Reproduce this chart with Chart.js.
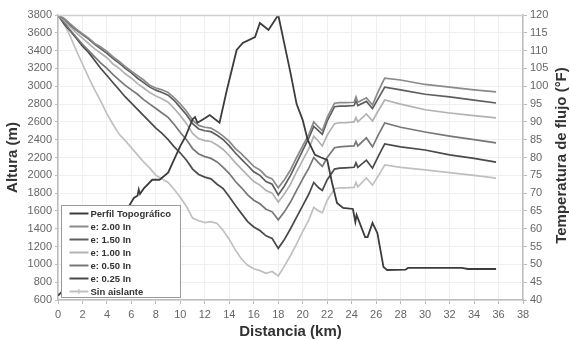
<!DOCTYPE html>
<html><head><meta charset="utf-8">
<script src="https://cdn.jsdelivr.net/npm/chart.js@4.4.1/dist/chart.umd.min.js"></script>
<style>html,body{margin:0;padding:0;background:#fff;}</style>
</head><body>
<canvas id="c" width="570" height="339"></canvas>
<script>
// ---- data ----
const seriesLabels = ["Perfil Topográfico","e: 2.00 In","e: 1.50 In","e: 1.00 In","e: 0.50 In","e: 0.25 In","Sin aislante"];
const distTopo = [0,1,2,3,4,5,6,6.2,6.5,6.6,6.7,7,7.7,8.3,9,9.4,10,10.4,11,11.2,11.4,12,12.4,13.2,13.8,14.6,15.1,16.1,16.5,16.7,17.2,18,19,19.5,20,20.4,21,21.5,22,22.4,22.8,23.3,24.1,24.3,24.4,25.1,25.3,25.7,26.1,26.6,26.9,28.4,28.6,33,33.5,35.8];
const altTopo = [650,780,930,1100,1280,1470,1700,1745,1770,1840,1790,1850,1950,1950,2030,2150,2330,2430,2630,2655,2590,2640,2677,2590,2958,3407,3486,3553,3710,3688,3632,3800,3150,2800,2620,2400,2230,2200,2172,1914,1690,1633,1622,1476,1555,1307,1307,1465,1352,970,937,940,960,960,948,948];
const distTemp = [0,0.5,1,1.5,2,2.5,3,3.5,4,4.5,5,5.5,6,6.5,7,7.5,8,8.5,9,9.5,10,10.5,11,11.5,12,12.5,13,13.5,14,14.5,15,15.5,16,16.5,17,17.5,18,18.5,19,19.5,20,20.5,20.9,21.3,21.6,22,22.6,23,23.5,24.2,24.35,24.5,25.2,25.7,26.2,26.7,28,30,32,34,35.8];
const temp200 = [120,119,117.5,116,114.75,113.5,112,111,109.75,108.25,107,105.5,104.25,103,101.75,100.25,99.5,99,98.25,96.75,95,93,90.5,89,88.5,88.25,87.25,86,84.5,82.5,81,79.25,77.5,76.5,74.75,74,71.5,73.75,76.5,80,83.25,86.5,90,88.5,87.5,91.25,95.25,95.4,95.4,95.5,97,95.5,96.75,94.75,98.75,102.3,101.75,100.5,99.75,99,98.4];
const temp150 = [120,118.9,117.25,115.75,114.5,113.25,111.75,110.5,109.25,107.75,106.5,105,103.75,102.25,101,99.75,98.9,98.25,97.5,96,94,92,89.5,88,87.5,87.25,86.25,85,83.25,81.25,79.5,77.75,76,75,73.25,72.5,69.5,72,75,78.5,82,85.5,88.75,87.5,86.5,90.25,94.25,94.4,94.4,94.6,96,94.6,95.75,93.75,96.75,99.75,99,97.75,97,96.1,95.3];
const temp100 = [120,118.5,116.75,115,113.5,112,110.5,109.25,108,106.25,105,103.5,102.25,100.75,99.5,98.25,97.25,96.5,95.5,93.75,91.75,89.5,86.75,85.25,84.75,84.5,83.5,82.25,80.5,78.5,76.75,75,73.25,72.25,70.75,70,67.5,69.75,72.5,76,79.25,82.5,86,84.5,83.25,86.25,89.5,89.75,89.75,90,91.25,90,92.25,90.25,93.25,96.15,95,93.4,92.5,91.75,91.1];
const temp050 = [120,118,115.75,113.75,111.75,110,108.25,106.5,105,103.25,101.75,100.25,99,97.75,96.25,95,93.75,92.5,91.25,89.25,87,85,82.5,81,80.25,79.75,78.75,77.25,75.5,73.25,71.5,69.5,68,67,65.5,64.75,62.5,64.75,67.5,70.75,74,77,80,78.5,77.5,80,82.75,83,83.1,83.25,84.5,83.25,85.5,83,86.5,89.7,88.5,87.15,86,85,84.1];
const temp025 = [120,117.5,115.5,113.5,111.25,109.5,107.25,105,103,101,99,97,95.25,93.5,91.75,90,88.25,86.75,85,83,81.25,79.25,76.75,75.25,74.5,74,72.5,71.25,69,66.5,64.25,62,60.5,59.5,58,57.25,54.5,57,60,63.25,66.5,69.75,73,71.5,70.75,73.75,76.75,77,77.1,77.25,78.5,77.25,79.25,77,80.5,83.8,83,82.1,80.75,79.75,78.7];
const tempSin = [120,117.5,114,110,106.25,102.5,99,95.75,92.25,89.25,86.5,84.75,82.75,80.75,78.75,77,75,74,73,71,68.75,66.25,63,62.25,61.75,62,61.5,59.5,57,54,51.5,49.75,48.75,48.25,47.5,48,46.75,49.5,52.5,55.75,59.25,62.5,66,65,64.5,68,71.25,71.5,71.5,71.6,73,71.75,74.25,72.25,75,77.9,77.25,76.5,75.75,75,74.2];
const xTickRange = [0, 38, 2];
const altTickRange = [600, 3800, 200];
const tempTickRange = [40, 120, 5];
const axisTitles = ["Distancia (km)", "Altura (m)", "Temperatura de flujo (°F)"];

// ---- styles ----
const colors = ["#3c3c3c","#8a8a8a","#5e5e5e","#b2b2b2","#777777","#4a4a4a","#c0c0c0"];
const FONT = "'Liberation Sans', Arial, sans-serif";
const plain = v => String(v);

function pts(xs, ys){ return xs.map((x,i)=>({x:x, y:ys[i]})); }
const tempSeries = [temp200,temp150,temp100,temp050,temp025,tempSin];
const datasets = [{
  label: seriesLabels[0], data: pts(distTopo, altTopo), yAxisID: 'yL',
  borderColor: colors[0], borderWidth: 1.8, pointRadius: 0, tension: 0
}].concat(tempSeries.map((s,i)=>({
  label: seriesLabels[i+1], data: pts(distTemp, s), yAxisID: 'yR',
  borderColor: colors[i+1], borderWidth: 1.7, pointRadius: 0, tension: 0
})));

const overlay = {
  id: 'overlay',
  afterDatasetsDraw(chart){
    const ctx = chart.ctx, ca = chart.chartArea;
    ctx.save();
    ctx.strokeStyle = '#cfcfcf'; ctx.lineWidth = 1.5;
    ctx.beginPath(); ctx.moveTo(ca.left, ca.top+0.5); ctx.lineTo(ca.right, ca.top+0.5); ctx.stroke();
    const bx = ca.left + 3.5, by = 205.5, bw = 119, bh = 92;
    ctx.fillStyle = '#fff'; ctx.fillRect(bx, by, bw, bh);
    ctx.strokeStyle = '#9a9a9a'; ctx.lineWidth = 1; ctx.strokeRect(bx, by, bw, bh);
    ctx.font = 'bold 9.5px ' + FONT; ctx.textBaseline = 'middle'; ctx.textAlign = 'left';
    chart.data.datasets.forEach((ds,i)=>{
      const y = by + 8 + i*13;
      ctx.strokeStyle = ds.borderColor; ctx.lineWidth = 2;
      ctx.beginPath(); ctx.moveTo(bx+8, y); ctx.lineTo(bx+27, y); ctx.stroke();
      if (i === 6) { ctx.lineWidth = 1.2; ctx.beginPath(); ctx.moveTo(bx+17.5, y-2.5); ctx.lineTo(bx+17.5, y+2.5); ctx.stroke(); }
      ctx.fillStyle = '#333';
      ctx.fillText(ds.label, bx+29, y+0.5);
    });
    ctx.translate(562, (ca.top+ca.bottom)/2 - 2);
    ctx.rotate(-Math.PI/2);
    ctx.font = 'bold 15px ' + FONT; ctx.fillStyle = '#333'; ctx.textAlign = 'center';
    ctx.fillText(axisTitles[2], 0, 0);
    ctx.restore();
  }
};

new Chart(document.getElementById('c'), {
  type: 'line',
  data: { datasets: datasets },
  options: {
    responsive: false, animation: false, events: [],
    layout: { padding: { top: 15, left: 0, right: 0, bottom: 0 } },
    plugins: { legend: { display: false }, tooltip: { enabled: false } },
    scales: {
      x: {
        type: 'linear', min: xTickRange[0], max: xTickRange[1],
        ticks: { stepSize: xTickRange[2], color: '#666', font: { family: FONT, size: 11 }, padding: 4, maxRotation: 0, callback: plain },
        grid: { color: '#efefef', tickColor: '#bbb', tickLength: 4 },
        border: { color: '#bdbdbd', width: 1.5 },
        title: { display: true, text: axisTitles[0], color: '#333', font: { family: FONT, size: 15, weight: 'bold' }, padding: { top: 0, bottom: -2 } },
        afterFit(s){ s.height = 39; }
      },
      yL: {
        type: 'linear', position: 'left', min: altTickRange[0], max: altTickRange[1],
        ticks: { stepSize: altTickRange[2], color: '#666', font: { family: FONT, size: 11 }, padding: 3, callback: plain },
        grid: { color: '#efefef', tickColor: '#bbb', tickLength: 3 },
        border: { color: '#bdbdbd', width: 1.5 },
        title: { display: true, text: axisTitles[1], color: '#333', font: { family: FONT, size: 15, weight: 'bold' }, padding: { top: 4, bottom: 0 } },
        afterFit(s){ s.width = 58; }
      },
      yR: {
        type: 'linear', position: 'right', min: tempTickRange[0], max: tempTickRange[1],
        ticks: { stepSize: tempTickRange[2], color: '#666', font: { family: FONT, size: 11 }, padding: 3, callback: plain },
        grid: { drawOnChartArea: false, tickColor: '#bbb', tickLength: 4 },
        border: { color: '#bdbdbd', width: 1.5 },
        afterFit(s){ s.width = 47; }
      }
    }
  },
  plugins: [overlay]
});
</script>
</body></html>
